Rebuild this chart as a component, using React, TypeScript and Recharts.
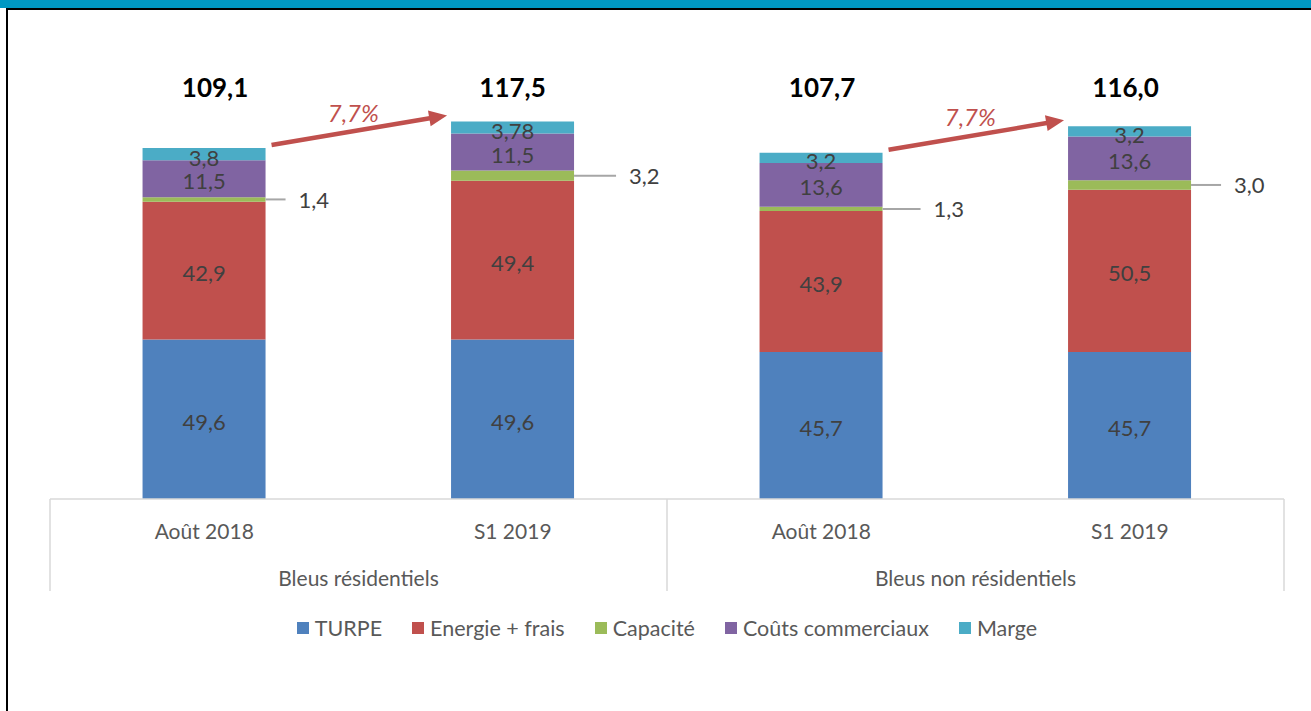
import React from 'react';
import { BarChart, Bar, XAxis, YAxis, LabelList } from 'recharts';

// ---- data ----
const CATEGORIES = ['Août 2018', 'S1 2019', 'Août 2018', 'S1 2019'];
const GROUPS = ['Bleus résidentiels', 'Bleus non résidentiels'];
const TURPE = [49.6, 49.6, 45.7, 45.7];
const ENERGIE = [42.9, 49.4, 43.9, 50.5];
const CAPACITE = [1.4, 3.2, 1.3, 3.0];
const COUTS = [11.5, 11.5, 13.6, 13.6];
const MARGE = [3.8, 3.78, 3.2, 3.2];
const TOTALS = [109.1, 117.5, 107.7, 116.0];
const GROWTH = [7.7, 7.7];
const SERIES_NAMES = ['TURPE', 'Energie + frais', 'Capacité', 'Coûts commerciaux', 'Marge'];
const SERIES_KEYS = ['turpe', 'energie', 'capacite', 'couts', 'marge'];

// ---- style ----
const COLORS = ['#4F81BD', '#C0504D', '#9BBB59', '#8064A2', '#4BACC6'];
const FONT = 'Lato, "Open Sans", sans-serif';
const FS = 21;
const BAR_GAP = 0.3;
const LEADER = [20, 42, 38, 30];
const TOTAL_DX = [11, 0, 1, -4];
const TOTAL_Y = 87;
const ARROW_COLOR = '#C0504D';

const data = CATEGORIES.map((c, i) => ({
  period: c,
  turpe: TURPE[i],
  energie: ENERGIE[i],
  capacite: CAPACITE[i],
  couts: COUTS[i],
  marge: MARGE[i],
}));

const SUMS = CATEGORIES.map((_, i) => TURPE[i] + ENERGIE[i] + CAPACITE[i] + COUTS[i] + MARGE[i]);

const fmt = (v: number) => {
  const s = Math.abs(v * 10 - Math.round(v * 10)) < 1e-9 ? v.toFixed(1) : String(v);
  return s.replace('.', ',');
};

const box = (p: any) => {
  const vb = p.viewBox && p.viewBox.width !== undefined ? p.viewBox : p;
  return { x: Number(vb.x), y: Number(vb.y), width: Number(vb.width), height: Number(vb.height) };
};

const CenterLabel = (p: any) => {
  const { x, y, width, height } = box(p);
  return (
    <text x={x + width / 2} y={y + height / 2 + 2} textAnchor="middle" dominantBaseline="central"
      fill="#404040" fontSize={FS + 1} fontFamily={FONT}>
      {fmt(Number(p.value))}
    </text>
  );
};

const LeaderLabel = (p: any) => {
  const { x, y, width, height } = box(p);
  const i = p.index;
  const cy = y + height / 2;
  const x0 = x + width;
  const x1 = x0 + LEADER[i];
  return (
    <g>
      <line x1={x0} y1={cy} x2={x1} y2={cy} stroke="#A6A6A6" strokeWidth={2} />
      <text x={x1 + 13} y={cy} textAnchor="start" dominantBaseline="central" fill="#404040"
        fontSize={FS + 1} fontFamily={FONT}>
        {fmt(Number(p.value))}
      </text>
    </g>
  );
};

const TopLabel = (p: any) => {
  const { x, y, width, height } = box(p);
  const i = p.index;
  const cx = x + width / 2;
  const items: any[] = [];
  items.push(
    <text key="v" x={cx} y={y + height / 2 + 3} textAnchor="middle" dominantBaseline="central"
      fill="#404040" fontSize={FS + 1} fontFamily={FONT}>
      {fmt(Number(p.value))}
    </text>
  );
  items.push(
    <text key="t" x={cx + TOTAL_DX[i]} y={TOTAL_Y} textAnchor="middle" dominantBaseline="central"
      fill="#000" fontSize={26} fontWeight={700} fontFamily={FONT}>
      {fmt(TOTALS[i])}
    </text>
  );
  if (i % 2 === 0 && i + 1 < SUMS.length) {
    const pxPerUnit = height / MARGE[i];
    const step = width / (1 - 2 * BAR_GAP);
    const nextTop = y - (SUMS[i + 1] - SUMS[i]) * pxPerUnit;
    const sx = x + width + 6;
    const sy = y - 3;
    const ex = x + step - 3;
    const ey = nextTop - 6;
    const ang = Math.atan2(ey - sy, ex - sx);
    const hl = 18;
    const hw = 8;
    const bx = ex - hl * Math.cos(ang);
    const by = ey - hl * Math.sin(ang);
    const nx = -Math.sin(ang);
    const ny = Math.cos(ang);
    const pts = `${ex},${ey} ${bx + nx * hw},${by + ny * hw} ${bx - nx * hw},${by - ny * hw}`;
    items.push(
      <g key="a">
        <line x1={sx} y1={sy} x2={bx + 2 * Math.cos(ang)} y2={by + 2 * Math.sin(ang)} stroke={ARROW_COLOR} strokeWidth={4.5} />
        <polygon points={pts} fill={ARROW_COLOR} />
        <text x={(sx + ex) / 2 - 6} y={(sy + ey) / 2 - 18} textAnchor="middle" dominantBaseline="central"
          fill={ARROW_COLOR} fontSize={24} fontStyle="italic" fontFamily={FONT}>
          {fmt(GROWTH[i / 2]) + '%'}
        </text>
      </g>
    );
  }
  return <g>{items}</g>;
};

const AxisTick = (p: any) => {
  const { x, y, payload } = p;
  const idx = payload.index;
  let half = payload.offset;
  if (!half && p.width && p.visibleTicksCount) half = p.width / p.visibleTicksCount / 2;
  const els: any[] = [];
  els.push(
    <text key="p" x={x} y={y + 31} textAnchor="middle" dominantBaseline="central" fill="#595959"
      fontSize={FS} fontFamily={FONT}>
      {payload.value}
    </text>
  );
  if (idx % 2 === 0) {
    els.push(<line key="l" x1={x - half} y1={y} x2={x - half} y2={y + 92} stroke="#D9D9D9" strokeWidth={1.5} />);
    els.push(
      <text key="g" x={x + half} y={y + 78} textAnchor="middle" dominantBaseline="central" fill="#595959"
        fontSize={FS} fontFamily={FONT}>
        {GROUPS[Math.floor(idx / 2)]}
      </text>
    );
  }
  if (idx === CATEGORIES.length - 1) {
    els.push(<line key="r" x1={x + half} y1={y} x2={x + half} y2={y + 92} stroke="#D9D9D9" strokeWidth={1.5} />);
  }
  return <g>{els}</g>;
};

export default function App() {
  return (
    <div style={{ position: 'absolute', left: 0, top: 0, width: 1311, height: 711, background: '#fff', overflow: 'hidden' }}>
      <div style={{ position: 'absolute', left: 0, top: 0, width: 1311, height: 8, background: '#0098C3' }} />
      <div style={{ position: 'absolute', left: 6, top: 8, width: 1305, height: 2, background: '#000' }} />
      <div style={{ position: 'absolute', left: 6, top: 8, width: 2, height: 703, background: '#000' }} />
      <div style={{ position: 'absolute', left: 0, top: 0 }}>
        <BarChart width={1311} height={711} data={data} barCategoryGap={`${BAR_GAP * 100}%`}
          margin={{ top: 49, right: 27, left: 50, bottom: 112 }}>
          <YAxis hide domain={[0, 140]} />
          <XAxis dataKey="period" height={100} interval={0} tickLine={false} tickSize={0} tickMargin={0}
            axisLine={{ stroke: '#D9D9D9', strokeWidth: 1.5 }} tick={<AxisTick />} />
          <Bar dataKey="turpe" stackId="s" fill={COLORS[0]} isAnimationActive={false}>
            <LabelList dataKey="turpe" content={<CenterLabel />} />
          </Bar>
          <Bar dataKey="energie" stackId="s" fill={COLORS[1]} isAnimationActive={false}>
            <LabelList dataKey="energie" content={<CenterLabel />} />
          </Bar>
          <Bar dataKey="capacite" stackId="s" fill={COLORS[2]} isAnimationActive={false}>
            <LabelList dataKey="capacite" content={<LeaderLabel />} />
          </Bar>
          <Bar dataKey="couts" stackId="s" fill={COLORS[3]} isAnimationActive={false}>
            <LabelList dataKey="couts" content={<CenterLabel />} />
          </Bar>
          <Bar dataKey="marge" stackId="s" fill={COLORS[4]} isAnimationActive={false}>
            <LabelList dataKey="marge" content={<TopLabel />} />
          </Bar>
        </BarChart>
      </div>
      <div style={{ position: 'absolute', left: 50, top: 616, width: 1234, height: 24, display: 'flex',
        justifyContent: 'center', alignItems: 'center', gap: 30, fontFamily: FONT, fontSize: FS + 0.5, color: '#595959' }}>
        {SERIES_NAMES.map((n, i) => (
          <div key={SERIES_KEYS[i]} style={{ display: 'flex', alignItems: 'center' }}>
            <span style={{ display: 'inline-block', width: 12, height: 12, background: COLORS[i], marginRight: 6 }} />
            <span style={{ lineHeight: '24px', whiteSpace: 'nowrap' }}>{n}</span>
          </div>
        ))}
      </div>
    </div>
  );
}
